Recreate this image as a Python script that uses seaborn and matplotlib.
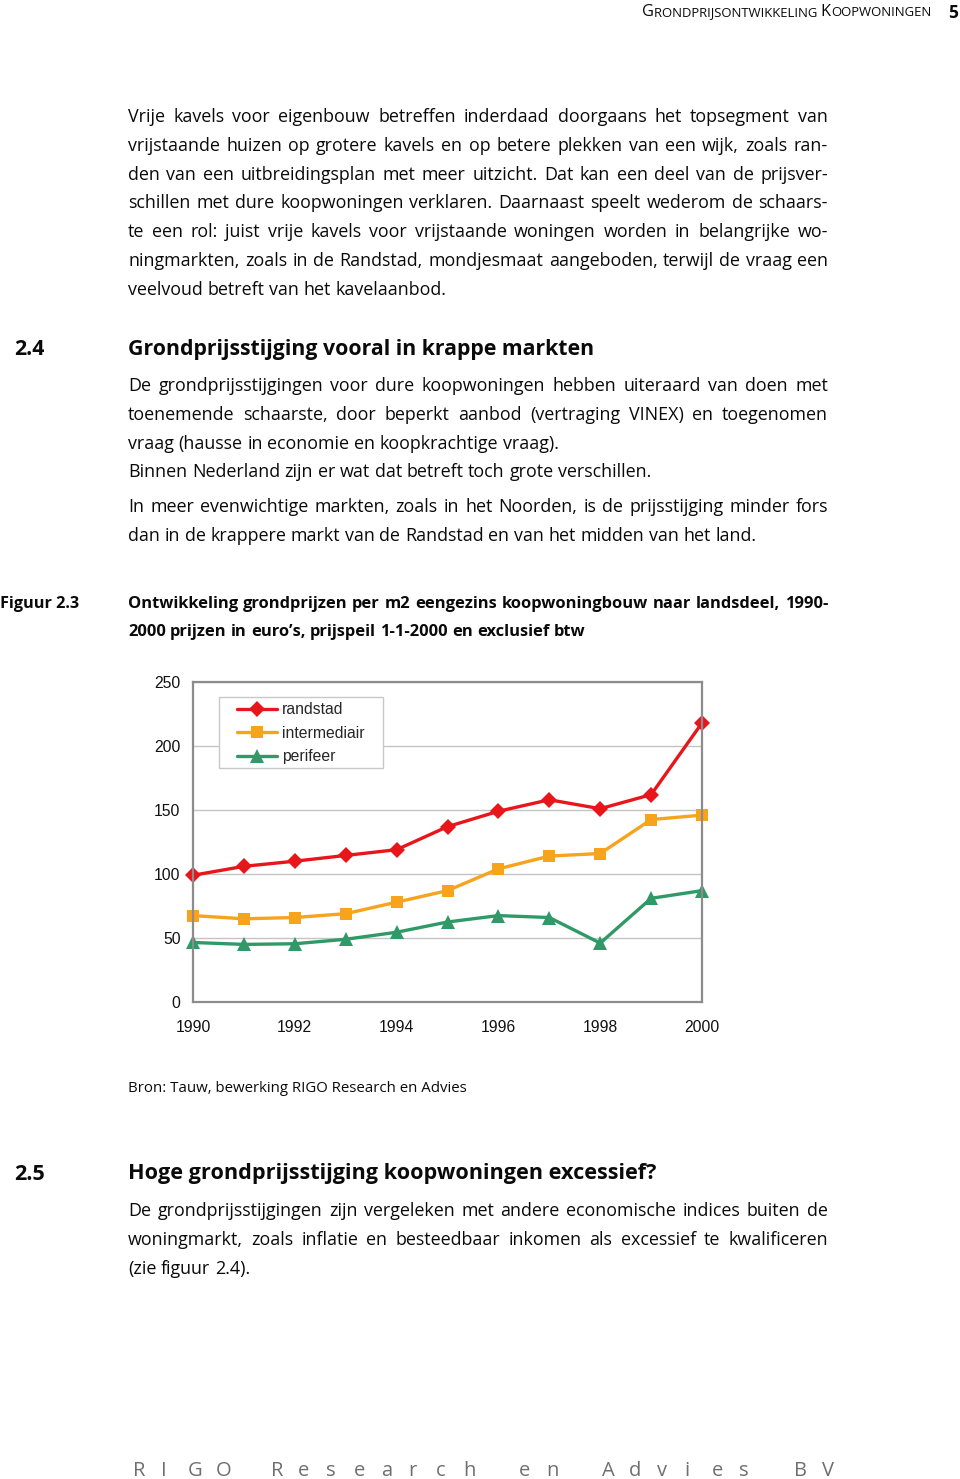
import matplotlib
matplotlib.use("Agg")
import matplotlib.pyplot as plt
from matplotlib.patches import Rectangle
import seaborn as sns
import pandas as pd

# ---------------- data ----------------
years = list(range(1990, 2001))
randstad = [99, 106, 110, 114.5, 119, 137, 149, 158, 151, 162, 218]
intermediair = [67.5, 65, 66, 69, 78, 87, 104, 114, 116, 142.5, 146]
perifeer = [46.5, 45, 45.5, 49, 54.5, 62.5, 67.5, 66, 46, 81, 87]
series_names = ["randstad", "intermediair", "perifeer"]
series_colors = ["#E8161B", "#F7A31C", "#2F9A67"]
series_markers = ["D", "s", "^"]
y_ticks = [0, 50, 100, 150, 200, 250]
x_tick_labels = ["1990", "", "1992", "", "1994", "", "1996", "", "1998", "", "2000"]

header_big = ["G", "K"]
header_small = ["RONDPRIJSONTWIKKELING ", "OOPWONINGEN"]
page_number = "5"
para1 = [
    "Vrije kavels voor eigenbouw betreffen inderdaad doorgaans het topsegment van",
    "vrijstaande huizen op grotere kavels en op betere plekken van een wijk, zoals ran-",
    "den van een uitbreidingsplan met meer uitzicht. Dat kan een deel van de prijsver-",
    "schillen met dure koopwoningen verklaren. Daarnaast speelt wederom de schaars-",
    "te een rol: juist vrije kavels voor vrijstaande woningen worden in belangrijke wo-",
    "ningmarkten, zoals in de Randstad, mondjesmaat aangeboden, terwijl de vraag een",
    "veelvoud betreft van het kavelaanbod.",
]
heading24 = ("2.4", "Grondprijsstijging vooral in krappe markten")
para2 = [
    "De grondprijsstijgingen voor dure koopwoningen hebben uiteraard van doen met",
    "toenemende schaarste, door beperkt aanbod (vertraging VINEX) en toegenomen",
    "vraag (hausse in economie en koopkrachtige vraag).",
    "Binnen Nederland zijn er wat dat betreft toch grote verschillen.",
]
para3 = [
    "In meer evenwichtige markten, zoals in het Noorden, is de prijsstijging minder fors",
    "dan in de krappere markt van de Randstad en van het midden van het land.",
]
fig_label = "Figuur 2.3"
caption = [
    "Ontwikkeling grondprijzen per m2 eengezins koopwoningbouw naar landsdeel, 1990-",
    "2000 prijzen in euro\u2019s, prijspeil 1-1-2000 en exclusief btw",
]
source = "Bron: Tauw, bewerking RIGO Research en Advies"
heading25 = ("2.5", "Hoge grondprijsstijging koopwoningen excessief?")
para4 = [
    "De grondprijsstijgingen zijn vergeleken met andere economische indices buiten de",
    "woningmarkt, zoals inflatie en besteedbaar inkomen als excessief te kwalificeren",
    "(zie figuur 2.4).",
]
footer = "RIGO Research en Advies BV"

# ---------------- figure ----------------
sns.set_style("white")
plt.rcParams["font.family"] = ["Liberation Sans", "DejaVu Sans"]
W, H = 960, 1479
fig = plt.figure(figsize=(W / 100, H / 100), dpi=100)
fig.patch.set_facecolor("white")
renderer = fig.canvas.get_renderer()
BODY = ["Open Sans", "DejaVu Sans"]
TXT = "#0a0a0a"
X0, X1 = 128, 828


def fx(x):
    return x / W


def fy(y):
    return 1 - y / H


def text_width(s, **kw):
    t = fig.text(0, 0, s, **kw)
    w = t.get_window_extent(renderer).width
    t.remove()
    return w


def natural_width(s, size, weight):
    kw = dict(fontsize=size, fontweight=weight, family=BODY)
    words = s.split(" ")
    space = text_width("a a", **kw) - text_width("aa", **kw)
    return sum(text_width(w, **kw) for w in words) + space * (len(words) - 1)


def fit_block(lines, base, weight, target):
    widest = max(natural_width(s, base, weight) for s in lines)
    return base * target / widest


def fit_single(s, base, weight, target):
    return base * target / text_width(s, fontsize=base, fontweight=weight, family=BODY)


def line(s, x0, base, x1=None, size=12.5, weight="normal", color=TXT, justify=False):
    kw = dict(fontsize=size, fontweight=weight, family=BODY, color=color)
    words = s.split(" ")
    widths = [text_width(w, **kw) for w in words]
    space = text_width("a a", **kw) - text_width("aa", **kw)
    if justify and x1 is not None and len(words) > 1:
        gap = (x1 - x0 - sum(widths)) / (len(words) - 1)
    else:
        gap = space
    x = x0
    for w, wd in zip(words, widths):
        fig.text(fx(x), fy(base), w, ha="left", va="baseline", **kw)
        x += wd + gap


def paragraph(lines, base0, size, justified, step=28.8, weight="normal"):
    for i, s in enumerate(lines):
        line(s, X0, base0 + i * step, X1, size=size, weight=weight, justify=justified[i])


# body size from justified lines
just_lines = para1[:6] + para2[:2] + para3[:1] + para4[:2]
body_size = fit_block(just_lines, 12.5, "normal", X1 - X0 - 8)

# header (small caps), fitted to width 642..933
def header(scale):
    x = 642
    items = [(header_big[0], 8.6), (header_small[0], 6.9), (header_big[1], 8.6), (header_small[1], 6.9)]
    out = []
    for s, sz in items:
        out.append((x, s, sz * scale))
        x += text_width(s, fontsize=sz * scale, family=BODY)
    return x, out

end, _ = header(1.0)
sc = (935 - 642) / (end - 642)
_, items = header(sc)
for x, s, sz in items:
    fig.text(fx(x), fy(16.5), s, fontsize=sz, family=BODY, color=TXT, va="baseline", ha="left")
fig.text(fx(958), fy(17.5), page_number, fontsize=12.5, fontweight="bold", family=BODY,
         color=TXT, ha="right", va="baseline")

paragraph(para1, 122, body_size, [True] * 6 + [False])

h_size = fit_single(heading24[1], 14.5, "bold", 595 - 128)
fig.text(fx(14), fy(355), heading24[0], fontsize=h_size, fontweight="bold", family=BODY, color=TXT, va="baseline")
fig.text(fx(128), fy(355), heading24[1], fontsize=h_size, fontweight="bold", family=BODY, color=TXT, va="baseline")

paragraph(para2, 391, body_size, [True, True, False, False])
paragraph(para3, 512, body_size, [True, False])

cap_size = fit_block(caption[:1], 10.5, "bold", X1 - X0 - 4)
lab_size = fit_single(fig_label, 10.5, "bold", 80)
fig.text(fx(0), fy(608), fig_label, fontsize=lab_size, fontweight="bold", family=BODY, color=TXT, va="baseline")
line(caption[0], X0, 608, X1, size=cap_size, weight="bold", justify=True)
line(caption[1], X0, 635.5, size=cap_size, weight="bold")

src_size = fit_single(source, 10.5, "normal", 468 - 128)
fig.text(fx(128), fy(1091.5), source, fontsize=src_size, family=BODY, color=TXT, va="baseline")

h2_size = fit_single(heading25[1], 14.5, "bold", 657 - 128)
fig.text(fx(14), fy(1179.5), heading25[0], fontsize=h2_size, fontweight="bold", family=BODY, color=TXT, va="baseline")
fig.text(fx(128), fy(1179.5), heading25[1], fontsize=h2_size, fontweight="bold", family=BODY, color=TXT, va="baseline")
paragraph(para4, 1216.5, body_size, [True, True, False])

# footer spaced letters
for i, ch in enumerate(footer):
    if ch != " ":
        fig.text(fx(133 + i * 27.56), fy(1476.5), ch, fontsize=14.5,
                 family=BODY, color="#6f6f6f", ha="left", va="baseline")

# ---------------- chart ----------------
rows = []
for name, vals in zip(series_names, [randstad, intermediair, perifeer]):
    for yr, v in zip(years, vals):
        rows.append({"year": yr, "value": v, "series": name})
df = pd.DataFrame(rows)

ax = fig.add_axes([fx(193), fy(1002), 509 / W, 320 / H])
sns.lineplot(
    data=df, x="year", y="value", hue="series", style="series",
    hue_order=series_names, style_order=series_names,
    palette=dict(zip(series_names, series_colors)),
    markers=dict(zip(series_names, series_markers)), dashes=False,
    linewidth=2.4, markeredgewidth=0, ax=ax,
)
msizes = {"D": 8.5, "s": 8.5, "^": 9.5}
for ln in ax.lines:
    ln.set_clip_on(False)
    m = ln.get_marker()
    if m in msizes:
        ln.set_markersize(msizes[m])
        ln.set_markeredgewidth(0)

ax.set_xlim(years[0], years[-1])
ax.set_ylim(y_ticks[0], y_ticks[-1])
ax.set_yticks(y_ticks)
ax.set_xticks(years)
ax.set_xticklabels(x_tick_labels)
ax.set_xlabel("")
ax.set_ylabel("")
ax.yaxis.grid(True, color="#c4c4c4", linewidth=1.0)
ax.xaxis.grid(False)
ax.set_axisbelow(True)
for sp in ax.spines.values():
    sp.set_visible(True)
    sp.set_color("#8c8c8c")
    sp.set_linewidth(1.6)
ax.tick_params(axis="both", direction="out", length=4, width=1, color="#8c8c8c",
               labelsize=11.3, labelcolor="#111111")
ax.tick_params(axis="x", pad=9)
ax.tick_params(axis="y", pad=5)

handles, labels = ax.get_legend_handles_labels()
for h in handles:
    m = h.get_marker()
    if m in msizes:
        h.set_markersize(msizes[m])
        h.set_markeredgewidth(0)
    h.set_linewidth(2.4)
# legend frame box (axes fraction)
ax.add_patch(Rectangle((0.0511, 0.731), 0.3222, 0.222, transform=ax.transAxes,
                       facecolor="white", edgecolor="#c8c8c8", linewidth=1.0, zorder=4))
leg = ax.legend(handles, labels, loc="upper left", bbox_to_anchor=(0.0864, 0.937),
                borderaxespad=0, borderpad=0, frameon=False, fontsize=11.3,
                handlelength=2.55, handletextpad=0.32, labelspacing=0.55)
leg.set_zorder(5)

fig.savefig("out.png", dpi=100, facecolor="white")
